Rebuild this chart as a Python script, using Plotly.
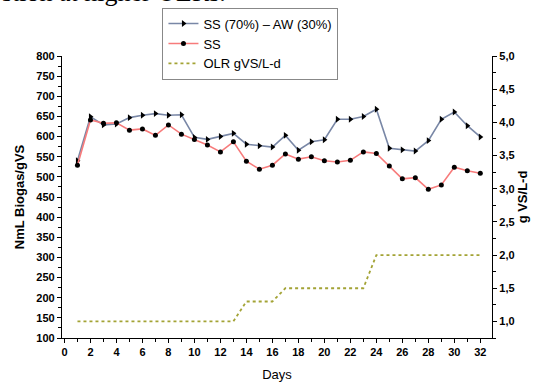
import plotly.graph_objects as go

days = list(range(1, 33))
aw_mix = [540, 649, 629, 631, 647, 653, 657, 653, 654, 598, 593, 600, 608, 581, 577, 574,
          603, 566, 587, 592, 643, 643, 650, 668, 571, 567, 564, 590, 643, 661, 627, 599]
ss = [529, 641, 633, 634, 616, 619, 603, 629, 606, 593, 579, 562, 587, 539, 519, 529,
      557, 544, 550, 540, 537, 541, 562, 558, 527, 495, 498, 469, 480, 524, 515, 509]
olr = [1.0] * 13 + [1.3] * 3 + [1.5] * 7 + [2.0] * 9

names = ["SS (70%) – AW (30%)", "SS", "OLR gVS/L-d"]

L, R, T, B = 61.5, 491.7, 55.5, 338.0
W, H = 541, 385
pw, ph = R - L, B - T

fig = go.Figure()
fig.add_trace(go.Scatter(x=days, y=aw_mix, name=names[0], mode="lines+markers",
                         line=dict(color="#7987a6", width=1.6),
                         marker=dict(symbol="triangle-right", size=6, color="black")))
fig.add_trace(go.Scatter(x=days, y=ss, name=names[1], mode="lines+markers",
                         line=dict(color="#f77b7b", width=1.6),
                         marker=dict(symbol="circle", size=5, color="black")))
fig.add_trace(go.Scatter(x=days, y=olr, name=names[2], mode="lines", yaxis="y2",
                         line=dict(color="#a3a335", width=1.8, dash="3px,3px")))

tickfont = dict(family="Liberation Sans, Arial", size=11, color="black", weight="bold")

fig.update_layout(
    width=W, height=H,
    margin=dict(l=L, r=W - R, t=T, b=H - B, autoexpand=False),
    paper_bgcolor="white", plot_bgcolor="white",
    separators=", ",
    font=dict(family="Liberation Sans, Arial", color="black"),
    showlegend=True,
    legend=dict(x=(162 - L) / pw, y=(B - 7) / ph, xanchor="left", yanchor="top",
                bordercolor="#888888", borderwidth=1, bgcolor="white",
                font=dict(size=13, family="Liberation Sans, Arial", color="black"),
                tracegroupgap=0, itemwidth=30),
    xaxis=dict(range=[-0.19, 32.9], dtick=2, tick0=0, showgrid=False, zeroline=False,
               showline=True, linecolor="black", linewidth=1.2,
               ticks="outside", ticklen=4, tickwidth=1.2, tickcolor="black",
               minor=dict(dtick=1, ticks="outside", ticklen=2.5, tickcolor="black"),
               tickfont=tickfont,
               title=dict(text="Days", font=dict(size=13, family="Liberation Sans, Arial"), standoff=12)),
    yaxis=dict(range=[100, 800], dtick=50, showgrid=False, zeroline=False,
               showline=True, linecolor="black", linewidth=1.2,
               ticks="outside", ticklen=4, tickwidth=1.2, tickcolor="black",
               minor=dict(dtick=25, ticks="outside", ticklen=2.5, tickcolor="black"),
               tickfont=tickfont,
               title=dict(text="<b>NmL Biogas/gVS</b>", font=dict(size=13, family="Liberation Sans, Arial"), standoff=8)),
    yaxis2=dict(range=[0.75, 5.0], dtick=0.5, tick0=1.0, tickformat=".1f", overlaying="y", side="right",
                showgrid=False, zeroline=False,
                showline=True, linecolor="black", linewidth=1.2,
                ticks="outside", ticklen=4, tickwidth=1.2, tickcolor="black",
                minor=dict(dtick=0.25, ticks="outside", ticklen=2.5, tickcolor="black"),
                tickfont=tickfont,
                title=dict(text="<b>g VS/L-d</b>", font=dict(size=13, family="Liberation Sans, Arial"), standoff=0)),
    annotations=[dict(text="stion at higher OLRs.", xref="paper", yref="paper",
                      x=(-1 - L) / pw, y=(B - 8.5) / ph, xanchor="left", yanchor="bottom",
                      showarrow=False,
                      font=dict(family="Liberation Serif, Times New Roman", size=26, color="black"))],
)

fig.write_html("out.html", config={"displayModeBar": False},
               post_script="document.body.style.margin='0';document.body.style.padding='0';window.dispatchEvent(new Event('resize'));")
